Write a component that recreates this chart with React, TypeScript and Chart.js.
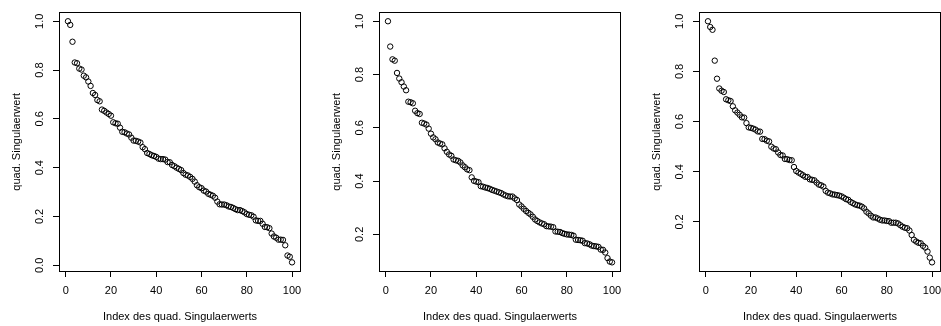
import React, { useEffect, useRef } from "react";
import { Chart, registerables } from "chart.js";

Chart.register(...registerables);

const panel1Values = [
  1.000, 0.985, 0.916, 0.831, 0.828, 0.806, 0.802, 0.777, 0.770, 0.753,
  0.735, 0.706, 0.698, 0.677, 0.672, 0.638, 0.633, 0.626, 0.620, 0.613,
  0.586, 0.582, 0.580, 0.564, 0.547, 0.545, 0.540, 0.536, 0.523, 0.511,
  0.510, 0.507, 0.503, 0.484, 0.476, 0.460, 0.456, 0.451, 0.448, 0.444,
  0.437, 0.435, 0.435, 0.433, 0.423, 0.422, 0.411, 0.406, 0.400, 0.395,
  0.390, 0.378, 0.371, 0.368, 0.362, 0.354, 0.343, 0.328, 0.320, 0.316,
  0.306, 0.302, 0.293, 0.289, 0.285, 0.277, 0.261, 0.250, 0.249, 0.249,
  0.246, 0.241, 0.239, 0.235, 0.230, 0.226, 0.226, 0.222, 0.217, 0.210,
  0.207, 0.205, 0.199, 0.184, 0.182, 0.182, 0.170, 0.157, 0.156, 0.152,
  0.130, 0.118, 0.113, 0.105, 0.105, 0.104, 0.082, 0.040, 0.035, 0.012,
];

const panel2Values = [
  1.000, 0.905, 0.857, 0.852, 0.806, 0.785, 0.771, 0.755, 0.741, 0.698,
  0.696, 0.692, 0.664, 0.655, 0.652, 0.619, 0.616, 0.612, 0.597, 0.578,
  0.564, 0.557, 0.545, 0.541, 0.538, 0.523, 0.510, 0.500, 0.495, 0.481,
  0.478, 0.476, 0.470, 0.459, 0.452, 0.444, 0.441, 0.414, 0.401, 0.398,
  0.396, 0.381, 0.379, 0.376, 0.374, 0.371, 0.367, 0.364, 0.361, 0.358,
  0.355, 0.350, 0.346, 0.343, 0.342, 0.342, 0.335, 0.329, 0.312, 0.305,
  0.296, 0.288, 0.281, 0.275, 0.266, 0.256, 0.250, 0.245, 0.241, 0.238,
  0.231, 0.230, 0.229, 0.227, 0.211, 0.210, 0.209, 0.205, 0.202, 0.200,
  0.199, 0.198, 0.195, 0.180, 0.179, 0.178, 0.176, 0.167, 0.166, 0.163,
  0.158, 0.156, 0.155, 0.153, 0.143, 0.142, 0.132, 0.111, 0.098, 0.095,
];

const panel3Values = [
  1.000, 0.977, 0.966, 0.843, 0.771, 0.732, 0.723, 0.718, 0.689, 0.685,
  0.682, 0.661, 0.645, 0.636, 0.627, 0.617, 0.616, 0.594, 0.577, 0.575,
  0.572, 0.568, 0.561, 0.560, 0.531, 0.530, 0.524, 0.521, 0.500, 0.493,
  0.490, 0.477, 0.467, 0.465, 0.451, 0.450, 0.447, 0.446, 0.419, 0.403,
  0.397, 0.392, 0.386, 0.380, 0.379, 0.370, 0.368, 0.366, 0.357, 0.349,
  0.346, 0.341, 0.324, 0.317, 0.314, 0.310, 0.309, 0.307, 0.305, 0.302,
  0.297, 0.291, 0.288, 0.280, 0.275, 0.270, 0.267, 0.265, 0.261, 0.254,
  0.241, 0.234, 0.225, 0.218, 0.218, 0.214, 0.209, 0.206, 0.206, 0.204,
  0.203, 0.197, 0.197, 0.197, 0.194, 0.187, 0.181, 0.177, 0.175, 0.166,
  0.148, 0.129, 0.122, 0.117, 0.115, 0.105, 0.098, 0.082, 0.058, 0.039,
];

const xTickValues = [0, 20, 40, 60, 80, 100];
const yTickValues1 = [0.0, 0.2, 0.4, 0.6, 0.8, 1.0];
const yTickValues23 = [0.2, 0.4, 0.6, 0.8, 1.0];
const xTitle = "Index des quad. Singulaerwerts";
const yTitle = "quad. Singulaerwert";

const FONT = { family: "'Liberation Sans', Arial, Helvetica, sans-serif", size: 11 };
const PANEL_W = 320;
const PANEL_H = 326;

const boxPlugin = {
  id: "rbox",
  afterDraw(chart: any) {
    const { ctx, chartArea: a } = chart;
    ctx.save();
    ctx.strokeStyle = "#000";
    ctx.lineWidth = 1;
    const l = Math.round(a.left) + 0.5;
    const t = Math.round(a.top) + 0.5;
    const r = Math.round(a.right) - 0.5;
    const b = Math.round(a.bottom) - 0.5;
    ctx.strokeRect(l, t, r - l, b - t);
    ctx.restore();
  },
};

function Panel({ values, yTicks, left }: { values: number[]; yTicks: number[]; left: number }) {
  const ref = useRef<HTMLCanvasElement | null>(null);
  useEffect(() => {
    const n = values.length;
    const xr = n - 1;
    const xmin = 1 - 0.04 * xr;
    const xmax = n + 0.04 * xr;
    const vmin = Math.min(...values);
    const vmax = Math.max(...values);
    const yr = vmax - vmin;
    const ymin = vmin - 0.04 * yr;
    const ymax = vmax + 0.04 * yr;
    const chart = new Chart(ref.current as HTMLCanvasElement, {
      type: "scatter",
      data: {
        datasets: [
          {
            data: values.map((v, i) => ({ x: i + 1, y: v })),
            pointStyle: "circle",
            pointRadius: 2.7,
            pointHoverRadius: 2.7,
            borderWidth: 1,
            borderColor: "#000",
            backgroundColor: "rgba(0,0,0,0)",
            showLine: false,
          },
        ],
      },
      options: {
        responsive: false,
        animation: false,
        devicePixelRatio: 1,
        events: [],
        layout: { padding: { top: 4, right: 19, left: 0, bottom: 0 } },
        plugins: { legend: { display: false }, tooltip: { enabled: false } },
        scales: {
          x: {
            type: "linear",
            position: "bottom",
            min: xmin,
            max: xmax,
            afterBuildTicks: (s: any) => {
              s.ticks = xTickValues.map((v) => ({ value: v }));
            },
            afterFit: (s: any) => {
              s.height = 54;
            },
            grid: { display: true, drawOnChartArea: false, drawTicks: true, tickLength: 5, color: "#000", lineWidth: 1 },
            border: { display: false },
            ticks: {
              font: FONT,
              color: "#000",
              padding: 7,
              maxRotation: 0,
              minRotation: 0,
              autoSkip: false,
              callback: (v: any) => String(Math.round(Number(v))),
            },
            title: { display: true, text: xTitle, font: FONT, color: "#000", padding: { top: 0, bottom: 2.7 } },
          },
          y: {
            type: "linear",
            position: "left",
            min: ymin,
            max: ymax,
            afterBuildTicks: (s: any) => {
              s.ticks = yTicks.map((v) => ({ value: v }));
            },
            afterFit: (s: any) => {
              s.width = 59;
            },
            grid: { display: true, drawOnChartArea: false, drawTicks: true, tickLength: 6, color: "#000", lineWidth: 1 },
            border: { display: false },
            ticks: {
              font: FONT,
              color: "#000",
              padding: 5,
              minRotation: 90,
              maxRotation: 90,
              crossAlign: "center",
              autoSkip: false,
              callback: (v: any) => Number(v).toFixed(1),
            },
            title: { display: true, text: yTitle, font: FONT, color: "#000", padding: { top: 10.7, bottom: 0 } },
          },
        },
      },
      plugins: [boxPlugin],
    } as any);
    return () => chart.destroy();
  }, [values, yTicks]);
  return (
    <div style={{ position: "absolute", left, top: 0, width: PANEL_W, height: PANEL_H }}>
      <canvas ref={ref} width={PANEL_W} height={PANEL_H} style={{ display: "block", width: PANEL_W, height: PANEL_H }} />
    </div>
  );
}

export default function App() {
  return (
    <div
      style={{
        position: "absolute",
        left: 0,
        top: 0,
        width: 941,
        height: 326,
        overflow: "hidden",
        background: "#fff",
      }}
    >
      <Panel values={panel1Values} yTicks={yTickValues1} left={0} />
      <Panel values={panel2Values} yTicks={yTickValues23} left={320} />
      <Panel values={panel3Values} yTicks={yTickValues23} left={640} />
    </div>
  );
}
